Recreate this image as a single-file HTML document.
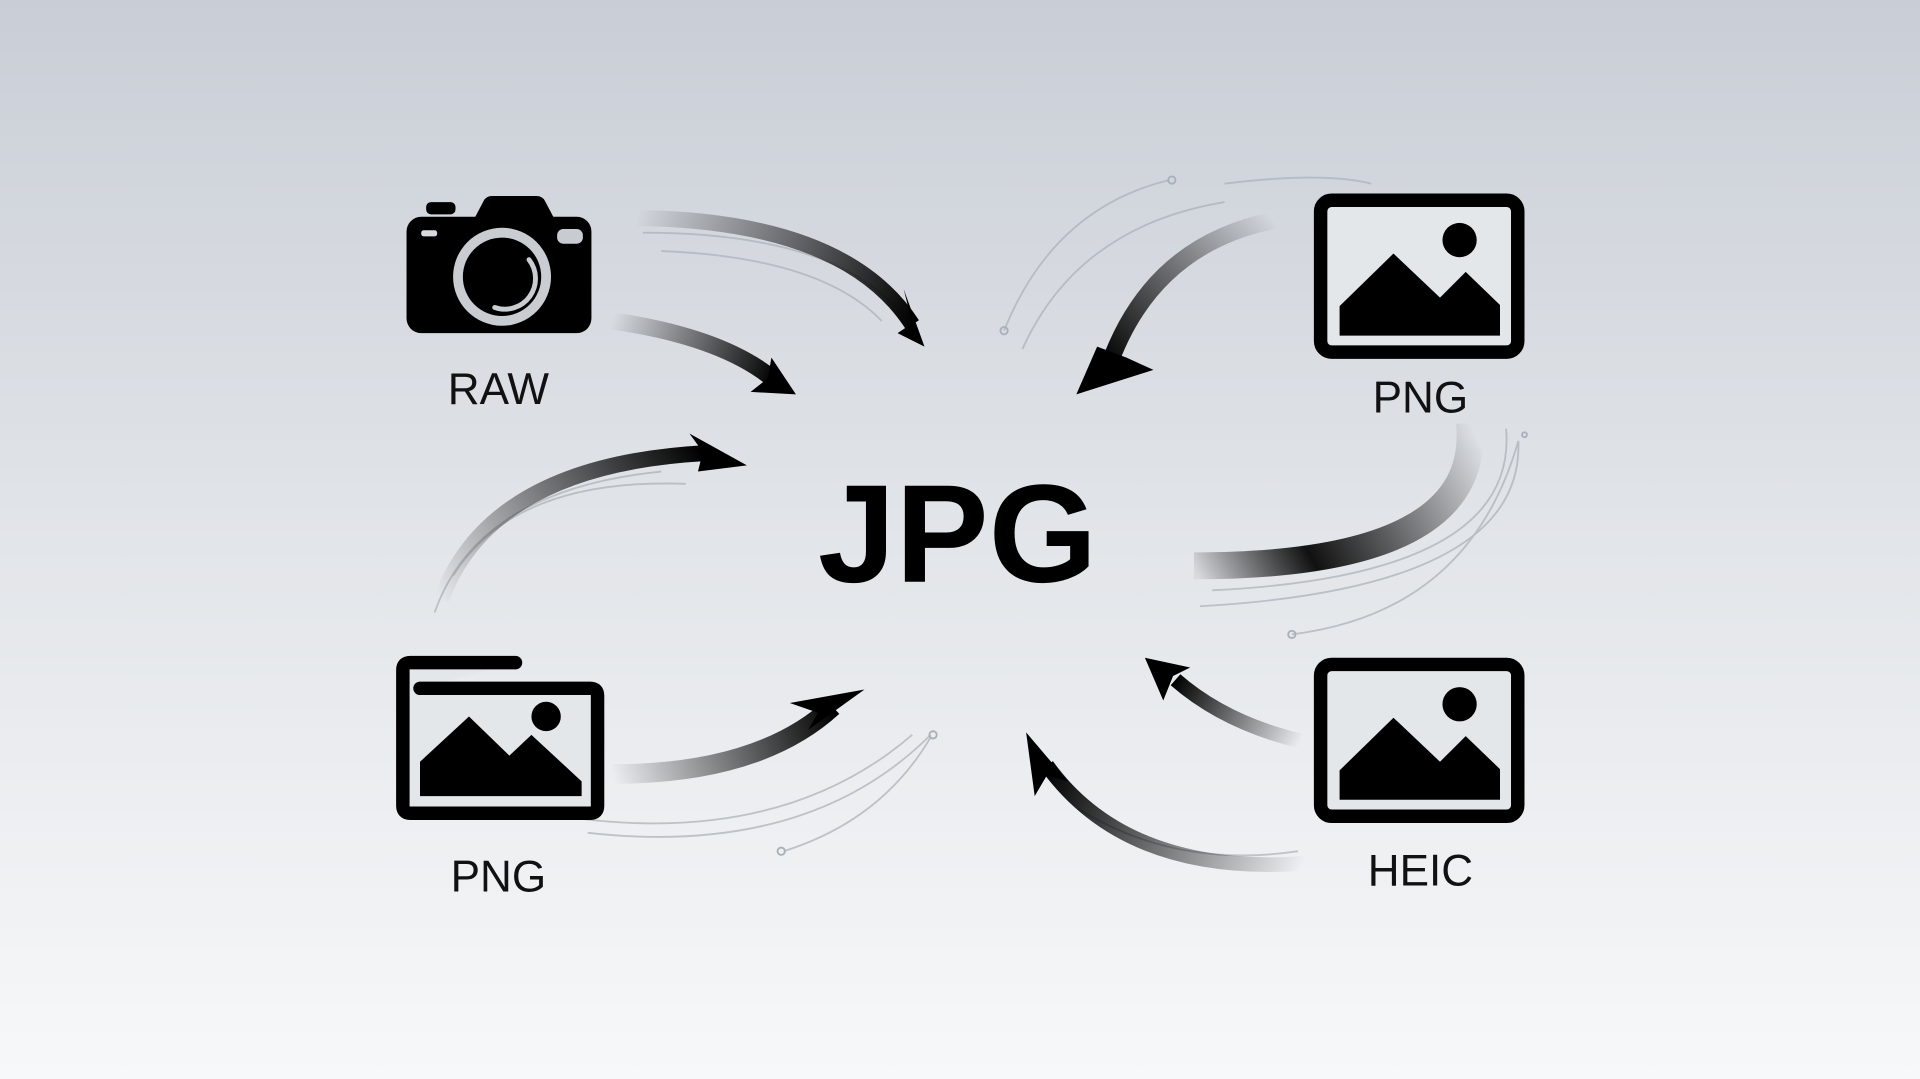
<!DOCTYPE html>
<html><head><meta charset="utf-8"><style>
html,body{margin:0;padding:0;width:1920px;height:1079px;overflow:hidden}
svg{display:block}
text{font-family:"Liberation Sans","DejaVu Sans",sans-serif}
</style></head><body>
<svg width="1920" height="1079" viewBox="0 0 1568 881" preserveAspectRatio="none" xmlns="http://www.w3.org/2000/svg">
<defs>
<linearGradient id="bg" x1="0" y1="0" x2="0" y2="1">
<stop offset="0" stop-color="#c9ced6"/><stop offset="0.5" stop-color="#e2e5e9"/><stop offset="1" stop-color="#f7f8f9"/>
</linearGradient>
<linearGradient id="g1" gradientUnits="userSpaceOnUse" x1="520" y1="178" x2="745" y2="265"><stop offset="0" stop-color="#000" stop-opacity="0"/><stop offset="1" stop-color="#000"/></linearGradient>
<linearGradient id="g2" gradientUnits="userSpaceOnUse" x1="500" y1="262" x2="632" y2="310"><stop offset="0" stop-color="#000" stop-opacity="0"/><stop offset="1" stop-color="#000"/></linearGradient>
<linearGradient id="g3" gradientUnits="userSpaceOnUse" x1="360" y1="490" x2="575" y2="372"><stop offset="0" stop-color="#000" stop-opacity="0"/><stop offset="1" stop-color="#000"/></linearGradient>
<linearGradient id="g4" gradientUnits="userSpaceOnUse" x1="500" y1="632" x2="680" y2="575"><stop offset="0" stop-color="#000" stop-opacity="0"/><stop offset="1" stop-color="#000"/></linearGradient>
<linearGradient id="g5" gradientUnits="userSpaceOnUse" x1="1040" y1="180" x2="905" y2="300"><stop offset="0" stop-color="#000" stop-opacity="0"/><stop offset="1" stop-color="#000"/></linearGradient>
<linearGradient id="g6" gradientUnits="userSpaceOnUse" x1="1200" y1="345" x2="975" y2="465"><stop offset="0" stop-color="#000" stop-opacity="0"/><stop offset="0.65" stop-color="#111"/><stop offset="1" stop-color="#000" stop-opacity="0.05"/></linearGradient>
<linearGradient id="g7" gradientUnits="userSpaceOnUse" x1="1062" y1="605" x2="960" y2="555"><stop offset="0" stop-color="#000" stop-opacity="0"/><stop offset="1" stop-color="#000"/></linearGradient>
<linearGradient id="g8" gradientUnits="userSpaceOnUse" x1="1065" y1="705" x2="855" y2="625"><stop offset="0" stop-color="#000" stop-opacity="0"/><stop offset="1" stop-color="#000"/></linearGradient>
<g id="pic">
<rect x="5.5" y="5.5" width="161" height="124" rx="9" fill="#e4e7ea" stroke="#000" stroke-width="11"/>
<circle cx="119" cy="38" r="14" fill="#000"/>
<path d="M21 92 L65 49 L103 85 L124 64 L152 91 L152 116 L21 116 Z" fill="#000"/>
</g>
</defs>
<rect width="1568" height="881" fill="url(#bg)"/>

<g fill="none" stroke="#aab0b8" stroke-width="1.5" opacity="0.7">
<path d="M525 190 Q680 190 735 255"/>
<path d="M540 205 Q670 210 720 262"/>
<path d="M370 470 Q420 390 560 395"/>
<path d="M355 500 Q390 400 540 385"/>
<path d="M470 668 Q640 690 745 600"/>
<path d="M480 680 Q660 700 760 600"/>
<path d="M640 695 Q720 670 760 602"/>
<path d="M820 270 Q860 170 955 147"/>
<path d="M835 285 Q880 185 1000 165"/>
<path d="M1000 150 Q1080 140 1120 150"/>
<path d="M1240 360 Q1245 480 980 495"/>
<path d="M1230 350 Q1240 470 990 482"/>
<path d="M1055 518 Q1200 500 1240 360"/>
<path d="M880 660 Q960 710 1060 695"/>
</g>
<g fill="none" stroke="#aab0b8" stroke-width="1.5">
<circle cx="957" cy="147" r="3"/><circle cx="820" cy="270" r="3"/><circle cx="762" cy="600" r="3"/><circle cx="638" cy="695" r="3"/><circle cx="1055" cy="518" r="3"/><circle cx="1245" cy="355" r="2"/>
</g>

<g fill="none" stroke-linecap="butt">
<path d="M520 178 Q690 180 745 265" stroke="url(#g1)" stroke-width="13"/>
<path d="M500 262 Q590 275 632 310" stroke="url(#g2)" stroke-width="14"/>
<path d="M360 490 Q400 380 575 370" stroke="url(#g3)" stroke-width="13"/>
<path d="M500 632 Q620 632 680 577" stroke="url(#g4)" stroke-width="16"/>
<path d="M1040 180 Q940 200 905 300" stroke="url(#g5)" stroke-width="14"/>
<path d="M1200 345 Q1212 462 975 462" stroke="url(#g6)" stroke-width="22"/>
<path d="M1062 605 Q1000 590 960 555" stroke="url(#g7)" stroke-width="12"/>
<path d="M1065 705 Q920 715 855 625" stroke="url(#g8)" stroke-width="12"/>
</g>
<g fill="#000">
<polygon points="755,283 733,272 745,264 738,236"/>
<polygon points="650,322 613,320 627,309 630,292"/>
<polygon points="610,380 563,354 574,369 570,385"/>
<polygon points="706,563 645,574 668,582 660,596"/>
<polygon points="879,322 942,302 920,292 896,283"/>
<polygon points="935,537 972,545 958,552 950,572"/>
<polygon points="838,598 845,650 855,633 872,638"/>
</g>

<g>
<rect x="348" y="165" width="24" height="10" rx="4" fill="#000"/>
<path d="M385 183 L395 164 Q397 160 402 160 L438 160 Q443 160 445 164 L455 183 Z" fill="#000"/>
<rect x="332" y="177" width="151" height="95" rx="12" fill="#000"/>
<rect x="344" y="188" width="13" height="5" rx="2" fill="#d8dbde"/>
<rect x="455" y="187" width="21" height="12" rx="5" fill="#c8ccd0"/>
<circle cx="410" cy="226" r="40" fill="#c9cdd1"/>
<circle cx="410" cy="226" r="32" fill="#000"/>
<path d="M432 212 A25 25 0 0 1 404 251" fill="none" stroke="#c9cdd1" stroke-width="4" stroke-linecap="round"/>
</g>
<text x="407" y="330" font-size="36" text-anchor="middle" fill="#111">RAW</text>

<use href="#pic" x="1073" y="158"/>
<text x="1160" y="337" font-size="36" text-anchor="middle" fill="#111">PNG</text>

<g>
<path d="M421 541 L335 541 Q329 541 329 547 L329 658 Q329 664 335 664 L482 664 Q488 664 488 658 L488 568 Q488 562 482 562 L343 562" fill="#e4e7ea" stroke="#000" stroke-width="11" stroke-linecap="round"/>
<circle cx="446" cy="585" r="12" fill="#000"/>
<path d="M343 622 L383 585 L416 617 L434 600 L475 638 L475 650 L343 650 Z" fill="#000"/>
</g>
<text x="407" y="728" font-size="36" text-anchor="middle" fill="#111">PNG</text>

<use href="#pic" x="1073" y="537"/>
<text x="1160" y="723" font-size="36" text-anchor="middle" fill="#111">HEIC</text>

<text x="782" y="475" font-size="114" font-weight="bold" text-anchor="middle" fill="#000">JPG</text>
</svg>
</body></html>
